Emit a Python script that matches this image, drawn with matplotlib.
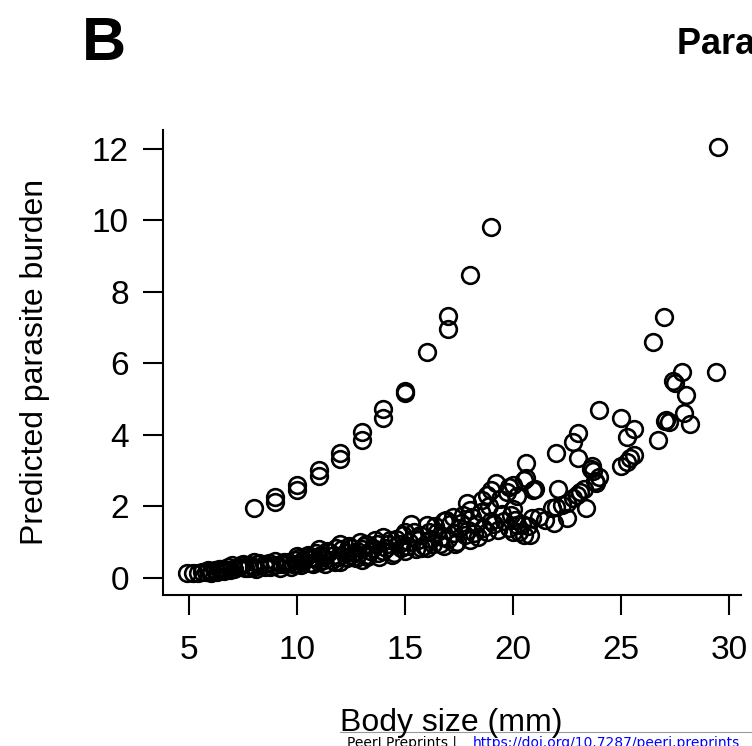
import matplotlib

matplotlib.use("Agg")
import matplotlib.pyplot as plt

plt.rcParams["font.family"] = ["Liberation Sans", "DejaVu Sans"]

# upper series (integer body sizes)
upper_x = [8, 9, 9, 10, 10, 11, 11, 12, 12, 13, 13, 14, 14, 15, 15, 16, 17, 17, 18, 19]
upper_y = [1.95, 2.13, 2.27, 2.46, 2.6, 2.85, 3.02, 3.32, 3.5, 3.86, 4.07, 4.48, 4.72,
           5.17, 5.22, 6.31, 6.96, 7.33, 8.48, 9.83]

# main cloud
cloud_x = [
    4.9, 5.2, 5.4, 5.6, 5.8, 6.0, 6.0, 6.2, 6.3,
    6.5, 6.6, 6.8, 6.9, 7.0, 7.1, 7.3, 7.5, 7.6, 7.8, 8.0, 8.0, 8.2,
    8.5, 8.7, 9.0, 9.2, 9.4, 9.5, 9.7, 9.9, 10.0, 10.0, 10.1, 10.2,
    10.3, 10.5, 10.6, 10.8, 10.9, 11.0, 11.0, 11.2, 11.3, 11.5, 11.6, 11.8, 11.9, 12.0, 12.0, 12.2, 12.3,
    12.5, 12.6, 12.8, 12.9, 13.0, 13.1, 13.3, 13.5, 13.6, 13.8, 14.0, 14.0, 14.2,
    14.5, 14.6, 14.8, 15.0, 15.0, 15.2, 15.3, 15.5, 15.7, 15.9, 16.0, 16.0, 16.2,
    16.5, 16.6, 16.8, 16.9, 17.0, 17.2, 17.3, 17.5, 17.7, 17.8, 17.86, 18.0, 18.0,
    18.3, 18.4, 18.55, 18.8, 18.8, 19.0, 19.0, 19.2, 19.3, 19.5, 19.8, 19.8, 20.0, 20.0, 20.0,
    20.1, 20.2, 20.3, 20.5, 20.5, 20.6, 20.6, 20.8, 20.9, 20.94,
    21.0, 21.2, 21.5, 21.8, 21.9, 22.0, 22.0, 22.1, 22.25, 22.5, 22.5, 22.8, 22.8, 22.95,
    23.0, 23.0, 23.1, 23.3, 23.4, 23.6, 23.65, 23.7, 23.8, 23.85, 24.0, 23.98,
    24.98, 25.0, 25.26, 25.3, 25.4, 25.6, 25.6, 26.5, 26.7, 27.0, 27.05, 27.1, 27.2,
    27.42, 27.5, 27.81, 27.9, 28.0, 28.2, 29.4, 29.5,
    # denser middle of the band
    5.9, 6.4, 6.7, 7.25, 7.4, 7.75, 8.1, 8.25, 8.5, 8.75, 9.0, 9.25, 9.6, 9.8,
    10.25, 10.4, 10.6, 10.75, 11.1, 11.25, 11.4, 11.7, 11.75,
    12.1, 12.25, 12.4, 12.7, 12.75, 13.0, 13.2, 13.25, 13.4, 13.7, 13.75,
    14.1, 14.3, 14.4, 14.7, 14.9, 15.1, 15.4, 15.6, 15.75, 16.1, 16.3, 16.4, 16.7, 16.8,
    17.1, 17.25, 17.4, 17.6, 17.9, 18.1, 18.2, 18.5, 18.6, 18.9, 19.1, 19.4, 19.6, 19.7,
    19.9, 20.2, 20.4, 20.7,
]
cloud_y = [
    0.15, 0.15, 0.13, 0.16, 0.18, 0.2, 0.15, 0.22, 0.17,
    0.25, 0.2, 0.3, 0.22, 0.35, 0.25, 0.3, 0.4, 0.28, 0.35, 0.45, 0.3, 0.38,
    0.3, 0.42, 0.35, 0.28, 0.45, 0.38, 0.3, 0.5, 0.62, 0.4, 0.55, 0.35,
    0.5, 0.65, 0.42, 0.55, 0.7, 0.8, 0.45, 0.6, 0.38, 0.72, 0.5, 0.85, 0.6, 0.95, 0.45, 0.7, 0.55,
    0.85, 0.6, 0.75, 1.0, 0.5, 0.9, 0.65, 0.85, 1.05, 0.6, 1.15, 0.75, 0.95,
    0.7, 1.1, 0.85, 1.3, 0.75, 1.0, 1.5, 0.8, 1.2, 0.9, 1.48, 0.85, 1.1,
    1.3, 0.95, 1.6, 1.62, 1.1, 1.71, 0.95, 1.4, 1.76, 1.2, 2.09, 1.9, 1.05,
    1.5, 1.15, 2.18, 2.32, 1.3, 2.46, 1.6, 2.67, 1.35, 1.8, 2.55, 1.4, 2.6, 1.92, 1.3,
    1.62, 1.48, 1.3, 2.74, 1.2, 2.79, 3.23, 1.2, 1.67, 2.46,
    2.5, 1.71, 1.62, 1.95, 1.53, 1.99, 3.5, 2.5, 2.04, 2.09, 1.67, 2.23, 3.81, 2.32,
    4.05, 3.35, 2.41, 2.5, 1.95, 3.05, 3.13, 3.0, 2.7, 2.65, 2.83, 4.70,
    4.48, 3.13, 3.25, 3.95, 3.35, 3.44, 4.16, 6.61, 3.87, 7.31, 4.39, 4.42, 4.36,
    5.52, 5.45, 5.77, 4.62, 5.11, 4.31, 5.77, 12.05,
    0.22, 0.25, 0.22, 0.3, 0.35, 0.28, 0.25, 0.42, 0.4, 0.3, 0.48, 0.4, 0.45, 0.38,
    0.45, 0.6, 0.55, 0.4, 0.65, 0.5, 0.75, 0.65, 0.45,
    0.8, 0.6, 0.9, 0.7, 0.55, 0.8, 0.95, 0.6, 0.75, 0.95, 0.7,
    0.85, 1.05, 0.65, 0.95, 1.2, 0.9, 1.3, 1.05, 0.85, 1.3, 0.95, 1.45, 1.15, 0.9,
    1.5, 1.25, 1.0, 1.55, 1.35, 1.7, 1.25, 1.85, 1.4, 2.0, 1.5, 2.2, 1.6, 2.4,
    1.75, 2.3, 1.5, 1.45,
]

x_ticks = [5, 10, 15, 20, 25, 30]
y_ticks = [0, 2, 4, 6, 8, 10, 12]

fig = plt.figure(figsize=(7.52, 7.46), dpi=100)
ax = fig.add_axes([163 / 752, 1 - 595 / 746, 578 / 752, 465 / 746])

mk = dict(ls="none", marker="o", mfc="none", mec="black", ms=12, mew=1.9)
ax.plot(cloud_x, cloud_y, **mk)
ax.plot(upper_x, upper_y, **mk)

ax.set_xlim(3.796, 30.556)
ax.set_ylim(-0.476, 12.53)
ax.set_xticks(x_ticks)
ax.set_yticks(y_ticks)
ax.spines["top"].set_visible(False)
ax.spines["right"].set_visible(False)
for s in ("left", "bottom"):
    ax.spines[s].set_linewidth(1.5)
ax.tick_params(axis="both", direction="out", length=14.5, width=1.5, labelsize=24)
ax.tick_params(axis="y", pad=10)
ax.tick_params(axis="x", pad=14)

fig.text(35 / 752, 1 - 362 / 746, "Predicted parasite burden", rotation=90,
         ha="center", va="center", fontsize=23)
fig.text(451 / 752, 1 - 731 / 746, "Body size (mm)", ha="center", va="baseline",
         fontsize=23)
fig.text(104 / 752, 1 - 45 / 746, "B", ha="center", va="center", fontsize=44,
         fontweight="bold")
fig.text(677 / 752, 1 - 44 / 746, "Parasite burden", ha="left", va="center",
         fontsize=26, fontweight="bold")

# preprint footer (cut off at the bottom edge)
fig.add_artist(plt.Line2D([340 / 752, 1], [1 - 732 / 746] * 2, color="#999999", lw=0.8))
fig.text(347 / 752, 1 - 736 / 746, "PeerJ Preprints | ", ha="left", va="top",
         fontsize=10, family="DejaVu Sans")
fig.text(473 / 752, 1 - 736 / 746, "https://doi.org/10.7287/peerj.preprints", ha="left",
         va="top", fontsize=10, color="blue", family="DejaVu Sans")

fig.savefig("out.png", dpi=100)
